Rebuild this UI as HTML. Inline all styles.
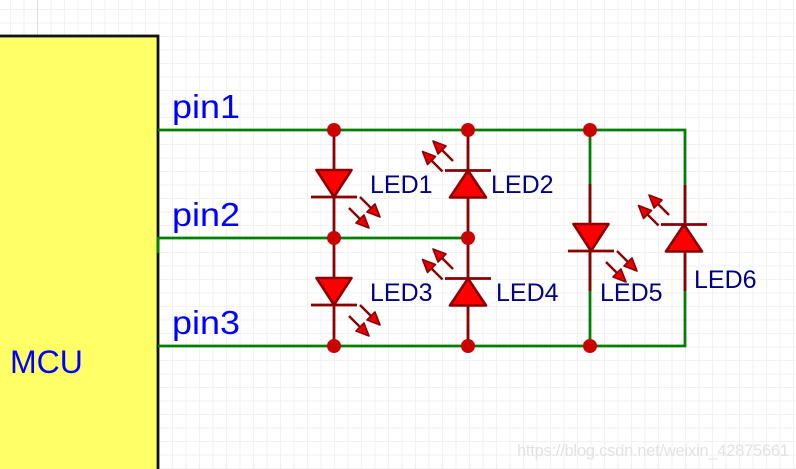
<!DOCTYPE html>
<html>
<head>
<meta charset="utf-8">
<style>
html,body{margin:0;padding:0;background:#fff;width:796px;height:469px;overflow:hidden}
svg{display:block}
text{font-family:"Liberation Sans",Arial,sans-serif}
</style>
</head>
<body>
<svg xmlns="http://www.w3.org/2000/svg" width="796" height="469" viewBox="0 0 796 469">
<defs>
<pattern id="g" x="10" y="9" width="13.5" height="13.5" patternUnits="userSpaceOnUse">
<path d="M0.5 0V13.5M0 0.5H13.5" stroke="#f1f1f1" stroke-width="1" fill="none"/>
</pattern>
<g id="a">
<path d="M0 0L11 11" stroke="#8b0000" stroke-width="2.400" fill="none"/>
<path d="M20 20L15 7L7 15Z" fill="#e80000" stroke="#8b0000" stroke-width="1.600" stroke-linejoin="round"/>
</g>
<g id="down">
<path d="M-17.500 -27H17.500L0 0Z" fill="#ff0000" stroke="#8b0000" stroke-width="2.600" stroke-linejoin="round"/>
<path d="M-23 0H23" stroke="#8b0000" stroke-width="2.800"/>
<use href="#a" transform="translate(26,0)"/>
<use href="#a" transform="translate(15,11)"/>
</g>
<g id="up">
<path d="M-18 27H18L0 0Z" fill="#ff0000" stroke="#8b0000" stroke-width="2.600" stroke-linejoin="round"/>
<path d="M-23 0H23" stroke="#8b0000" stroke-width="2.800"/>
<use href="#a" transform="translate(-25.500,1) rotate(180)"/>
<use href="#a" transform="translate(-15,-9.500) rotate(180)"/>
</g>
</defs>
<rect width="796" height="469" fill="#fff"/>
<rect width="796" height="469" fill="url(#g)"/>
<path d="M37.500 0V35" stroke="#dcdcdc" stroke-width="1"/>

<rect x="-5" y="36" width="163" height="440" fill="#ffff66" stroke="#111" stroke-width="2.800"/>

<g stroke="#008000" stroke-width="2.800" fill="none">
<path d="M158 130H685V346H158"/>
<path d="M158 253V238H468"/>
<path d="M590 130V346"/>
</g>

<g stroke="#8b0000" stroke-width="2.800" fill="none">
<path d="M334 130V346"/>
<path d="M468 130V346"/>
<path d="M590 184V291"/>
<path d="M685 185V291"/>
</g>

<use href="#down" x="334" y="197"/>
<use href="#up" x="468" y="170.500"/>
<use href="#down" x="334" y="305"/>
<use href="#up" x="468" y="278.500"/>
<use href="#down" x="591" y="251"/>
<use href="#up" x="684" y="224.500"/>

<g fill="#cc0000">
<circle cx="334" cy="130" r="7"/><circle cx="468" cy="130" r="7"/><circle cx="590" cy="130" r="7"/>
<circle cx="334" cy="238" r="7"/><circle cx="468" cy="238" r="7"/>
<circle cx="334" cy="346" r="7"/><circle cx="468" cy="346" r="7"/><circle cx="590" cy="346" r="7"/>
</g>

<g fill="#0000ff" font-size="33">
<text x="172" y="118" textLength="68" lengthAdjust="spacingAndGlyphs">pin1</text>
<text x="172" y="226" textLength="68" lengthAdjust="spacingAndGlyphs">pin2</text>
<text x="172" y="334" textLength="68" lengthAdjust="spacingAndGlyphs">pin3</text>
<text x="10" y="373" font-size="32">MCU</text>
</g>
<g fill="#000080" font-size="25">
<text x="370" y="193">LED1</text>
<text x="491" y="193">LED2</text>
<text x="370" y="301">LED3</text>
<text x="496" y="301">LED4</text>
<text x="600" y="301">LED5</text>
<text x="694" y="288">LED6</text>
</g>
<text x="517" y="456" font-size="16.500" fill="#e2e2e2" textLength="272">https://blog.csdn.net/weixin_42875661</text>
</svg>
</body>
</html>
